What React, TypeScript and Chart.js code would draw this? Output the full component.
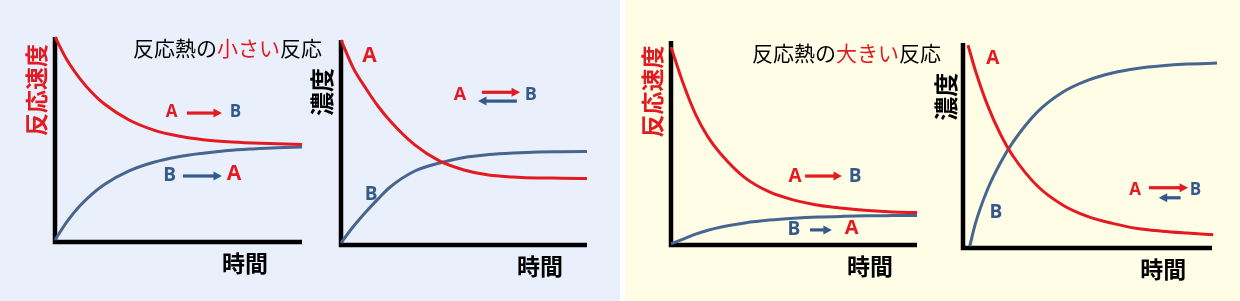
import { useEffect, useRef } from "react";
import { Chart, registerables } from "chart.js";

Chart.register(...registerables);

// Shared time grid (arbitrary units, 0–10 along the time axis)
const TIME = [0, 0.5, 1, 1.5, 2, 3, 4, 5, 6, 7, 8, 9, 10];

// Small heat of reaction: rates (0–100 scale)
const SMALL_RATE_FORWARD = [100, 88.5, 79.8, 72.8, 67.3, 59.5, 54.6, 51.7, 49.9, 48.9, 48.3, 47.9, 47.6];
const SMALL_RATE_BACKWARD = [1, 10.2, 17.6, 23.4, 28.1, 34.7, 38.9, 41.6, 43.3, 44.6, 45.4, 46.0, 46.3];

// Small heat of reaction: concentrations
const SMALL_CONC_A = [100, 86.3, 76.6, 67.8, 60.5, 48.8, 41, 36.6, 34.1, 33.2, 32.7, 32.6, 32.4];
const SMALL_CONC_B = [1, 9, 16, 22.4, 28.3, 36.1, 40, 42.7, 44.1, 44.9, 45.4, 45.5, 45.6];

// Large heat of reaction: rates
const LARGE_RATE_FORWARD = [97, 79, 64, 53, 45, 33, 26, 22, 19.5, 18, 16.9, 16.2, 15.9];
const LARGE_RATE_BACKWARD = [0.5, 2.9, 5.3, 7.2, 8.7, 10.8, 12.2, 13.1, 13.7, 14.05, 14.3, 14.4, 14.5];

// Large heat of reaction: concentrations
const LARGE_CONC_TIME_A = [0.2, 0.5, 1, 1.5, 2, 3, 4, 5, 6, 7, 8, 9, 10.05];
const LARGE_CONC_A = [99, 86.5, 69.2, 55.6, 45, 30.1, 21, 15.4, 12, 9.5, 8.2, 7.3, 6.5];
const LARGE_CONC_TIME_B = [0.27, 0.5, 1, 1.5, 2, 3, 4, 5, 6, 7, 8, 9, 10.2];
const LARGE_CONC_B = [0.8, 12, 29, 41.5, 51.5, 66.5, 76, 81.8, 85.4, 87.6, 88.9, 89.7, 90.2];

const RED = "#E41A22";
const BLUE_LINE = "#46658F";
const BLUE_TEXT = "#34598A";
const BLACK = "#000000";

const CJK = '"Noto Sans CJK JP"';
const LATIN = '"Open Sans"';

type Series = { t: number[]; v: number[]; color: string };
type Decor =
  | { kind: "text"; text: string; t: number; v: number; color: string; font: string; rotate?: boolean }
  | { kind: "rich"; parts: { text: string; color: string }[]; t: number; v: number; font: string }
  | { kind: "arrow"; from: number; to: number; v: number; color: string };

type Spec = {
  left: number;
  width: number;
  padding: { left: number; right: number; top: number; bottom: number };
  series: Series[];
  decor: Decor[];
};

const titleFont = `21px ${CJK}`;
const axisFont = (size: number) => `bold ${size}px ${CJK}`;
const letterFont = (size: number) => `bold ${size}px ${LATIN}`;

const SPECS: Spec[] = [
  {
    left: 0,
    width: 330,
    padding: { left: 55, right: 28, top: 37, bottom: 59 },
    series: [
      { t: TIME, v: SMALL_RATE_FORWARD, color: RED },
      { t: TIME, v: SMALL_RATE_BACKWARD, color: BLUE_LINE },
    ],
    decor: [
      {
        kind: "rich",
        parts: [
          { text: "反応熱の", color: BLACK },
          { text: "小さい", color: RED },
          { text: "反応", color: BLACK },
        ],
        t: 3.16,
        v: 94.6,
        font: titleFont,
      },
      { kind: "text", text: "反応速度", t: -0.77, v: 74.1, color: RED, font: axisFont(23), rotate: true },
      { kind: "text", text: "時間", t: 7.69, v: -10.2, color: BLACK, font: axisFont(23) },
      { kind: "text", text: "A", t: 4.72, v: 63.4, color: RED, font: letterFont(17) },
      { kind: "arrow", from: 5.34, to: 6.76, v: 62.9, color: RED },
      { kind: "text", text: "B", t: 7.31, v: 63.4, color: BLUE_TEXT, font: letterFont(17) },
      { kind: "text", text: "B", t: 4.64, v: 32.2, color: BLUE_TEXT, font: letterFont(19) },
      { kind: "arrow", from: 5.18, to: 6.76, v: 32.2, color: BLUE_TEXT },
      { kind: "text", text: "A", t: 7.25, v: 33.2, color: RED, font: letterFont(21) },
    ],
  },
  {
    left: 290,
    width: 330,
    padding: { left: 51, right: 33, top: 40, bottom: 56 },
    series: [
      { t: TIME, v: SMALL_CONC_A, color: RED },
      { t: TIME, v: SMALL_CONC_B, color: BLUE_LINE },
    ],
    decor: [
      { kind: "text", text: "濃度", t: -0.77, v: 74.6, color: BLACK, font: axisFont(24), rotate: true },
      { kind: "text", text: "時間", t: 8.09, v: -10.2, color: BLACK, font: axisFont(23) },
      { kind: "text", text: "A", t: 1.16, v: 92.2, color: RED, font: letterFont(21) },
      { kind: "text", text: "B", t: 1.22, v: 24.4, color: BLUE_TEXT, font: letterFont(19) },
      { kind: "text", text: "A", t: 4.84, v: 73.2, color: RED, font: letterFont(18) },
      { kind: "arrow", from: 5.73, to: 7.28, v: 74.5, color: RED },
      { kind: "arrow", from: 7.15, to: 5.57, v: 70.2, color: BLUE_TEXT },
      { kind: "text", text: "B", t: 7.72, v: 73.2, color: BLUE_TEXT, font: letterFont(18) },
    ],
  },
  {
    left: 625,
    width: 330,
    padding: { left: 46, right: 38, top: 41, bottom: 56 },
    series: [
      { t: TIME, v: LARGE_RATE_FORWARD, color: RED },
      { t: TIME, v: LARGE_RATE_BACKWARD, color: BLUE_LINE },
    ],
    decor: [
      {
        kind: "rich",
        parts: [
          { text: "反応熱の", color: BLACK },
          { text: "大きい", color: RED },
          { text: "反応", color: BLACK },
        ],
        t: 3.29,
        v: 94.1,
        font: titleFont,
      },
      { kind: "text", text: "反応速度", t: -0.77, v: 75.2, color: RED, font: axisFont(23), rotate: true },
      { kind: "text", text: "時間", t: 8.09, v: -10.3, color: BLACK, font: axisFont(23) },
      { kind: "text", text: "A", t: 5.04, v: 33.5, color: RED, font: letterFont(19) },
      { kind: "arrow", from: 5.45, to: 6.95, v: 33.8, color: RED },
      { kind: "text", text: "B", t: 7.48, v: 33.5, color: BLUE_TEXT, font: letterFont(19) },
      { kind: "text", text: "B", t: 5.0, v: 7.4, color: BLUE_TEXT, font: letterFont(19) },
      { kind: "arrow", from: 5.65, to: 6.54, v: 7.4, color: BLUE_TEXT },
      { kind: "text", text: "A", t: 7.34, v: 8.3, color: RED, font: letterFont(20) },
    ],
  },
  {
    left: 915,
    width: 325,
    padding: { left: 48, right: 28, top: 43, bottom: 53 },
    series: [
      { t: LARGE_CONC_TIME_A, v: LARGE_CONC_A, color: RED },
      { t: LARGE_CONC_TIME_B, v: LARGE_CONC_B, color: BLUE_LINE },
    ],
    decor: [
      { kind: "text", text: "濃度", t: -0.7, v: 73.8, color: BLACK, font: axisFont(24), rotate: true },
      { kind: "text", text: "時間", t: 8.04, v: -10.6, color: BLACK, font: axisFont(23) },
      { kind: "text", text: "A", t: 1.2, v: 92.3, color: RED, font: letterFont(19) },
      { kind: "text", text: "B", t: 1.32, v: 17.2, color: BLUE_TEXT, font: letterFont(19) },
      { kind: "text", text: "A", t: 6.91, v: 28, color: RED, font: letterFont(17) },
      { kind: "arrow", from: 7.47, to: 9.04, v: 29.4, color: RED },
      { kind: "arrow", from: 8.74, to: 7.86, v: 24.5, color: BLUE_TEXT },
      { kind: "text", text: "B", t: 9.34, v: 28, color: BLUE_TEXT, font: letterFont(17) },
    ],
  },
];

const AXIS_WIDTH = 4.5;
const CURVE_WIDTH = 3;
const ARROW_WIDTH = 3.2;
const ARROW_HEAD_LEN = 8.5;
const ARROW_HEAD_HALF = 4.5;

// Draws the L-shaped axes under the curves, and the labels and arrows on top.
function makeDecorPlugin(items: Decor[]) {
  return {
    id: "reactionDecor",
    beforeDatasetsDraw(chart: any) {
      const { ctx } = chart;
      const x = chart.scales.x;
      const y = chart.scales.y;
      const left = x.getPixelForValue(x.min);
      const right = x.getPixelForValue(x.max);
      const bottom = y.getPixelForValue(y.min);
      const top = y.getPixelForValue(y.max);
      ctx.save();
      ctx.strokeStyle = BLACK;
      ctx.lineWidth = AXIS_WIDTH;
      ctx.lineJoin = "miter";
      ctx.lineCap = "butt";
      ctx.beginPath();
      ctx.moveTo(left, top);
      ctx.lineTo(left, bottom);
      ctx.lineTo(right, bottom);
      ctx.stroke();
      ctx.restore();
    },
    afterDatasetsDraw(chart: any) {
      const { ctx } = chart;
      const x = chart.scales.x;
      const y = chart.scales.y;
      ctx.save();
      ctx.textBaseline = "middle";
      for (const item of items) {
        if (item.kind === "text") {
          const px = x.getPixelForValue(item.t);
          const py = y.getPixelForValue(item.v);
          ctx.font = item.font;
          ctx.fillStyle = item.color;
          ctx.textAlign = "center";
          if (item.rotate) {
            ctx.save();
            ctx.translate(px, py);
            ctx.rotate(-Math.PI / 2);
            ctx.fillText(item.text, 0, 0);
            ctx.restore();
          } else {
            ctx.fillText(item.text, px, py);
          }
        } else if (item.kind === "rich") {
          let px = x.getPixelForValue(item.t);
          const py = y.getPixelForValue(item.v);
          ctx.font = item.font;
          ctx.textAlign = "left";
          for (const part of item.parts) {
            ctx.fillStyle = part.color;
            ctx.fillText(part.text, px, py);
            px += ctx.measureText(part.text).width;
          }
        } else {
          const x0 = x.getPixelForValue(item.from);
          const x1 = x.getPixelForValue(item.to);
          const py = y.getPixelForValue(item.v);
          const dir = Math.sign(x1 - x0) || 1;
          const shaftEnd = x1 - dir * ARROW_HEAD_LEN;
          ctx.strokeStyle = item.color;
          ctx.fillStyle = item.color;
          ctx.lineWidth = ARROW_WIDTH;
          ctx.lineCap = "butt";
          ctx.beginPath();
          ctx.moveTo(x0, py);
          ctx.lineTo(shaftEnd + dir * 0.5, py);
          ctx.stroke();
          ctx.beginPath();
          ctx.moveTo(x1, py);
          ctx.lineTo(shaftEnd, py - ARROW_HEAD_HALF);
          ctx.lineTo(shaftEnd, py + ARROW_HEAD_HALF);
          ctx.closePath();
          ctx.fill();
        }
      }
      ctx.restore();
    },
  };
}

function ReactionChart({ spec }: { spec: Spec }) {
  const ref = useRef<HTMLCanvasElement>(null);

  useEffect(() => {
    const canvas = ref.current;
    if (!canvas) return;
    const chart = new Chart(canvas, {
      type: "line",
      data: {
        datasets: spec.series.map((s) => ({
          data: s.t.map((t, i) => ({ x: t, y: s.v[i] })),
          borderColor: s.color,
          borderWidth: CURVE_WIDTH,
          pointRadius: 0,
          fill: false,
          cubicInterpolationMode: "monotone" as const,
          clip: false as any,
        })),
      },
      options: {
        responsive: false,
        animation: false,
        devicePixelRatio: 1,
        layout: { padding: spec.padding },
        scales: {
          x: { type: "linear", display: false, min: 0, max: 10 },
          y: { type: "linear", display: false, min: 0, max: 100 },
        },
        plugins: {
          legend: { display: false },
          tooltip: { enabled: false },
        },
        events: [],
      },
      plugins: [makeDecorPlugin(spec.decor)],
    });
    return () => chart.destroy();
  }, [spec]);

  return (
    <canvas
      ref={ref}
      width={spec.width}
      height={301}
      style={{ position: "absolute", left: spec.left, top: 0, width: spec.width, height: 301 }}
    />
  );
}

export default function App() {
  return (
    <div
      style={{
        position: "fixed",
        left: 0,
        top: 0,
        width: 1240,
        height: 301,
        background: "#ffffff",
        overflow: "hidden",
      }}
    >
      <div style={{ position: "absolute", left: 0, top: 0, width: 620, height: 301, background: "#E9F0FB" }} />
      <div style={{ position: "absolute", left: 625, top: 0, width: 615, height: 301, background: "#FFFDE6" }} />
      {SPECS.map((spec, i) => (
        <ReactionChart key={i} spec={spec} />
      ))}
    </div>
  );
}
